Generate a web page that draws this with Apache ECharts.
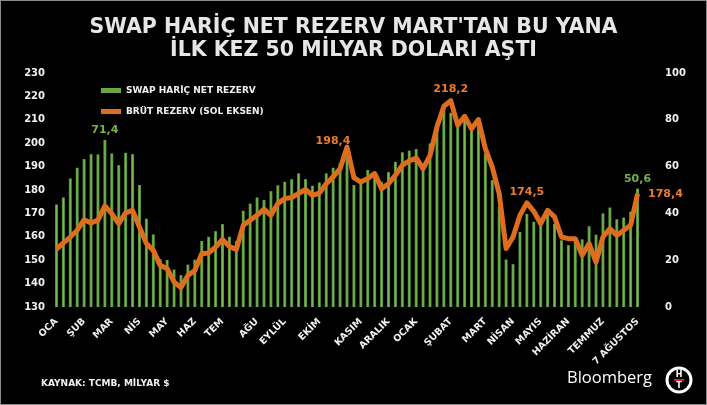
<!DOCTYPE html>
<html>
<head>
<meta charset="utf-8">
<title>Swap hariç net rezerv</title>
<script src="https://cdn.jsdelivr.net/npm/echarts@6/dist/echarts.min.js"></script>
<style>
  html, body { margin: 0; padding: 0; background: #000; }
  #chart { width: 705px; height: 403px; border: 1px solid #8a8a8a; }
</style>
</head>
<body>
<div id="chart"></div>
<script>
// haftalik veriler, Ocak'tan 7 Agustos'a
var monthNames = ['OCA', 'ŞUB', 'MAR', 'NİS', 'MAY', 'HAZ', 'TEM', 'AĞU', 'EYLÜL', 'EKİM',
  'KASIM', 'ARALIK', 'OCAK', 'ŞUBAT', 'MART', 'NİSAN', 'MAYIS', 'HAZİRAN', 'TEMMUZ', '7 AĞUSTOS'];
var monthWeek = [0, 4, 8, 12, 16, 20, 24, 29, 33, 38, 44, 48, 52, 57, 62, 66, 70, 74, 79, 84];

// swap haric net rezerv (sag eksen, milyar $)
var netRezerv = [
  43.8, 46.8, 54.9, 59.5, 63.2, 65.3, 65.2, 71.4, 65.6, 60.6,
  65.9, 65.3, 52.1, 37.7, 31.0, 20.4, 20.1, 16.0, 13.6, 18.1,
  20.2, 28.2, 30.0, 32.4, 35.4, 30.0, 28.1, 41.1, 44.2, 46.8,
  45.7, 49.5, 52.0, 53.5, 54.6, 57.1, 54.6, 51.8, 53.2, 57.1,
  59.5, 61.5, 64.0, 52.1, 54.1, 58.5, 57.1, 53.5, 57.6, 62.0,
  66.1, 66.8, 67.5, 59.9, 69.9, 78.7, 85.0, 83.0, 77.8, 79.9,
  77.0, 79.2, 65.6, 54.2, 42.8, 20.3, 18.3, 32.1, 39.8, 36.4,
  35.7, 39.7, 35.5, 28.5, 26.4, 28.0, 28.9, 34.5, 30.9, 40.0,
  42.5, 37.5, 38.2, 40.7, 50.6
];

// brut rezerv (sol eksen, milyar $)
var brutRezerv = [
  154.7, 157.4, 159.9, 162.8, 167.3, 165.9, 167.1, 173.2, 169.9, 165.6,
  170.2, 171.3, 164.2, 157.1, 154.2, 147.8, 146.4, 140.7, 138.3, 143.5,
  145.6, 152.8, 153.1, 155.6, 158.9, 155.8, 154.6, 164.9, 167.1, 169.2,
  171.8, 169.2, 174.2, 176.3, 176.8, 178.5, 180.2, 177.7, 178.7, 182.7,
  185.6, 189.1, 198.4, 185.3, 183.4, 184.9, 187.0, 180.6, 182.7, 186.3,
  190.6, 192.4, 193.7, 189.1, 194.8, 206.9, 215.8, 218.2, 207.7, 211.5,
  206.2, 210.1, 197.7, 189.8, 178.5, 155.0, 159.9, 169.2, 174.5, 170.9,
  165.6, 171.3, 168.5, 159.9, 159.2, 159.2, 152.1, 157.1, 149.2, 159.9,
  163.5, 160.6, 162.8, 164.9, 178.4
];

var netLabelAt = [7, 84];
var brutLabelAt = [42, 57, 68, 84];

var categories = netRezerv.map(function (v, i) {
  var k = monthWeek.indexOf(i);
  return k >= 0 ? monthNames[k] : '';
});

function fmt(v) {
  return v.toFixed(1).replace('.', ',');
}

var FONT = 'DejaVu Sans';
var ORANGE = '#de6d1f';

var barData = netRezerv.map(function (v, i) {
  if (netLabelAt.indexOf(i) < 0) return v;
  return {
    value: v,
    label: {
      show: true, position: 'top', distance: 4, formatter: fmt(v),
      color: '#76b24a', fontFamily: FONT, fontWeight: 'bold', fontSize: 11
    }
  };
});

var lineData = brutRezerv.map(function (v, i) {
  var k = brutLabelAt.indexOf(i);
  if (k < 0) return v;
  var last = i === brutRezerv.length - 1;
  var lbl = {
    show: true, position: last ? 'right' : 'top', distance: last ? 10 : 5,
    formatter: fmt(v),
    color: '#ec7b2c', fontFamily: FONT, fontWeight: 'bold', fontSize: 11
  };
  if (k === 0) { lbl.distance = 0; lbl.offset = [-14, 0]; }
  return { value: v, label: lbl };
});

var chart = echarts.init(document.getElementById('chart'));

chart.setOption({
  backgroundColor: '#000',
  animation: false,
  title: {
    text: "SWAP HARİÇ NET REZERV MART'TAN BU YANA\nİLK KEZ 50 MİLYAR DOLARI AŞTI",
    left: 'center',
    top: 10,
    textStyle: {
      color: '#e6e6e6', fontFamily: FONT, fontWeight: 'bold', fontSize: 20.5, lineHeight: 23
    }
  },
  legend: {
    orient: 'vertical',
    left: 95,
    top: 80,
    itemGap: 12,
    itemWidth: 20,
    itemHeight: 5,
    textStyle: { color: '#f0f0f0', fontFamily: FONT, fontWeight: 'bold', fontSize: 9 },
    data: [
      { name: 'SWAP HARİÇ NET REZERV', icon: 'path://M0,0 L20,0 L20,5 L0,5 Z',
        itemStyle: { color: '#6aa847' } },
      { name: 'BRÜT REZERV (SOL EKSEN)', icon: 'path://M0,0 L20,0 L20,5 L0,5 Z',
        itemStyle: { color: ORANGE } }
    ]
  },
  grid: { left: 52, right: 65, top: 72, bottom: 97, containLabel: false },
  xAxis: {
    type: 'category',
    data: categories,
    axisLine: { show: false },
    axisTick: { show: false },
    axisLabel: {
      interval: 0, rotate: 45, margin: 13,
      color: '#f0f0f0', fontFamily: FONT, fontWeight: 'bold', fontSize: 9.5
    }
  },
  yAxis: [
    {
      type: 'value', min: 130, max: 230, interval: 10,
      splitLine: { show: false },
      axisLine: { show: false },
      axisTick: { show: false },
      axisLabel: { margin: 8, color: '#f0f0f0', fontFamily: FONT, fontWeight: 'bold', fontSize: 10 }
    },
    {
      type: 'value', min: 0, max: 100, interval: 20,
      splitLine: { show: false },
      axisLine: { show: false },
      axisTick: { show: false },
      axisLabel: { margin: 24, color: '#f0f0f0', fontFamily: FONT, fontWeight: 'bold', fontSize: 10 }
    }
  ],
  series: [
    {
      name: 'SWAP HARİÇ NET REZERV',
      type: 'bar',
      yAxisIndex: 1,
      barWidth: 3,
      itemStyle: {
        color: new echarts.graphic.LinearGradient(0, 0, 1, 0, [
          { offset: 0, color: '#4a852c' },
          { offset: 0.5, color: '#7cb956' },
          { offset: 1, color: '#4a852c' }
        ])
      },
      data: barData
    },
    {
      name: 'BRÜT REZERV (SOL EKSEN)',
      type: 'line',
      yAxisIndex: 0,
      symbol: 'circle',
      symbolSize: 1,
      showSymbol: true,
      lineStyle: { color: ORANGE, width: 5, join: 'round' },
      itemStyle: { color: ORANGE },
      data: lineData,
      z: 3
    }
  ],
  graphic: [
    {
      type: 'text', left: 40, top: 378,
      style: { text: 'KAYNAK: TCMB, MİLYAR $', fill: '#f0f0f0', font: 'bold 9px "DejaVu Sans"' }
    },
    {
      type: 'text', left: 566, top: 369,
      style: { text: 'Bloomberg', fill: '#ffffff', font: '16.5px "Open Sans"' }
    },
    {
      type: 'circle', shape: { cx: 678, cy: 379, r: 12 },
      style: { fill: '#000', stroke: '#ffffff', lineWidth: 3 }
    },
    {
      type: 'text', x: 678, y: 374,
      style: { text: 'H', fill: '#fff', font: 'bold 8px "DejaVu Sans"', align: 'center', verticalAlign: 'middle' }
    },
    {
      type: 'rect', shape: { x: 673, y: 378, width: 10, height: 2 },
      style: { fill: '#d8232a' }
    },
    {
      type: 'text', x: 678, y: 385,
      style: { text: 'T', fill: '#fff', font: 'bold 8px "DejaVu Sans"', align: 'center', verticalAlign: 'middle' }
    }
  ]
});
</script>
</body>
</html>
